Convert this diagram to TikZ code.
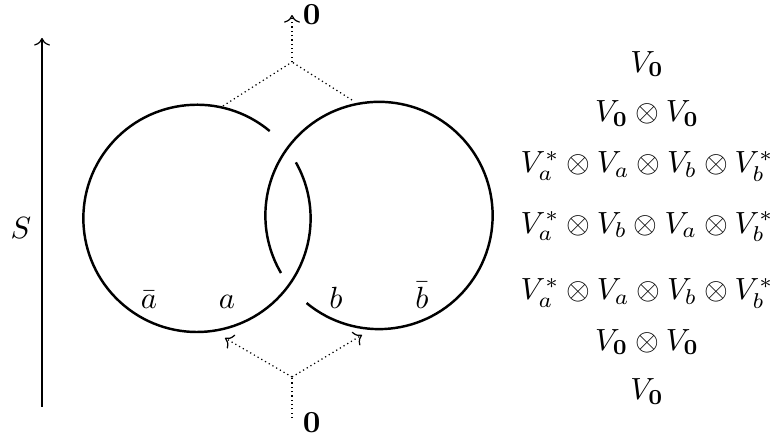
\documentclass[tikz,border=0pt]{standalone}
\usepackage{amsmath}
\usepackage{amssymb}
\usetikzlibrary{arrows.meta,positioning,calc}
\tikzset{
  knotline/.style={thick},
  fusearr/.style={->, densely dotted},
  timearr/.style={->},
  slicelbl/.style={anchor=base, inner sep=0pt},
  strandlbl/.style={anchor=base, inner sep=0pt},
}

\begin{document}
\begin{tikzpicture}[
  x=1.1cm, y=1.1cm,
  rad/.store in=\knotrad, rad=1.185,
]
  \useasboundingbox (0,0) rectangle (8.081,4.557);

  \coordinate (Lc) at (2.054,2.280);
  \coordinate (Rc) at (3.952,2.310);

  \draw[knotline] (Lc) ++(50.2:\knotrad) arc[start angle=50.2, end angle=389.5, radius=\knotrad];
  \draw[knotline] (Rc) ++(230.4:\knotrad) arc[start angle=230.4, end angle=570.4, radius=\knotrad];

  \node[strandlbl] (abar) at (1.554,1.335) {$\bar{a}$};
  \node[strandlbl] (a) at (2.367,1.335) {$a$};
  \node[strandlbl] (b) at (3.504,1.345) {$b$};
  \node[strandlbl] (bbar) at (4.400,1.345) {$\bar{b}$};

  \coordinate (capL) at (2.325,3.452);
  \coordinate (capR) at (3.670,3.514);
  \coordinate (topJ) at (3.045,3.910);
  \coordinate (topend) at (3.045,4.400);
  \node[right=0pt of topend] (zerotop) {$\mathbf{0}$};

  \coordinate (botstart) at (3.045,0.198);
  \coordinate (botJ) at (3.045,0.626);
  \coordinate (cupL) at (2.346,1.032);
  \coordinate (cupR) at (3.775,1.064);
  \node[right] (zerobot) at (3.045,0.146) {$\mathbf{0}$};

  \draw[densely dotted] (capL) -- (topJ);
  \draw[densely dotted] (capR) -- (topJ);
  \draw[fusearr] (topJ) -- (topend);

  \draw[densely dotted] (botstart) -- (botJ);
  \draw[fusearr] (botJ) -- (cupL);
  \draw[fusearr] (botJ) -- (cupR);

  \coordinate (sbot) at (0.438,0.313);
  \coordinate (stop) at (0.438,4.161);
  \draw[timearr] (sbot) -- node[left, pos=0.485] (slbl) {$S$} (stop);

  \node[slicelbl] (s1) at (6.747,3.806) {$V_{\mathbf{0}}$};
  \node[slicelbl] (s2) at (6.747,3.285) {$V_{\mathbf{0}}\otimes V_{\mathbf{0}}$};
  \node[slicelbl] (s3) at (6.747,2.753) {$V_a^*\otimes V_a\otimes V_b\otimes V_b^*$};
  \node[slicelbl] (s4) at (6.747,2.127) {$V_a^*\otimes V_b\otimes V_a\otimes V_b^*$};
  \node[slicelbl] (s5) at (6.747,1.429) {$V_a^*\otimes V_a\otimes V_b\otimes V_b^*$};
  \node[slicelbl] (s6) at (6.747,0.907) {$V_{\mathbf{0}}\otimes V_{\mathbf{0}}$};
  \node[slicelbl] (s7) at (6.747,0.386) {$V_{\mathbf{0}}$};
\end{tikzpicture}
\end{document}
